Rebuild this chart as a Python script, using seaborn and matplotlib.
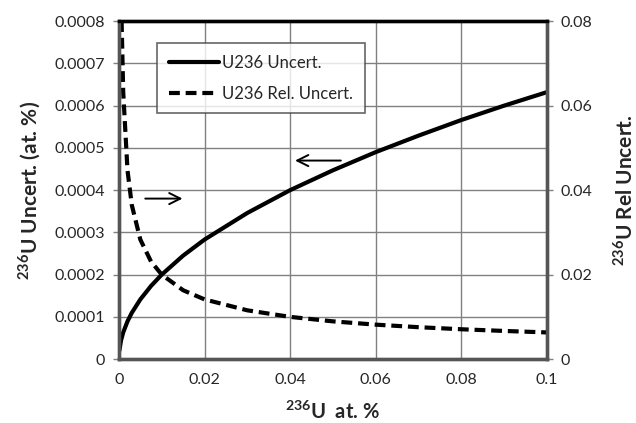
import numpy as np
import pandas as pd
import seaborn as sns
import matplotlib.pyplot as plt
from matplotlib.lines import Line2D

# values
u236_at = [0.0001, 0.0005, 0.001, 0.002, 0.003, 0.005, 0.0075, 0.01, 0.015, 0.02,
           0.03, 0.04, 0.05, 0.06, 0.07, 0.08, 0.09, 0.1]
u236_uncert = [0.00002, 0.0000447, 0.0000632, 0.0000894, 0.0001095, 0.0001414, 0.0001732,
               0.0002, 0.000245, 0.000283, 0.000346, 0.0004, 0.000447, 0.00049, 0.000529,
               0.000566, 0.0006, 0.000632]

rel_at = [0.000625, 0.001, 0.002, 0.003, 0.005, 0.0075, 0.01, 0.015, 0.02,
          0.03, 0.04, 0.05, 0.06, 0.07, 0.08, 0.09, 0.1]
u236_rel_uncert = [0.08, 0.0632, 0.0447, 0.0365, 0.0283, 0.0231, 0.02, 0.0163, 0.01414,
                   0.01155, 0.01, 0.00894, 0.00816, 0.00756, 0.00707, 0.00667, 0.00632]

sns.set_style("white")
plt.rcParams['font.family'] = ['Lato', 'DejaVu Sans']
plt.rcParams['mathtext.fontset'] = 'custom'
plt.rcParams['mathtext.rm'] = 'Lato'
plt.rcParams['mathtext.bf'] = 'Lato:bold'

df1 = pd.DataFrame({'x': u236_at, 'y': u236_uncert})
df2 = pd.DataFrame({'x': rel_at, 'y': u236_rel_uncert})

fig = plt.figure(figsize=(6.36, 4.23), dpi=100)
ax = fig.add_axes([0.187, 0.151, 0.673, 0.799])
ax2 = ax.twinx()

dash = (0, (2.6, 1.4))
sns.lineplot(data=df1, x='x', y='y', ax=ax, color='black', lw=3.0)
sns.lineplot(data=df2, x='x', y='y', ax=ax2, color='black', lw=3.0, linestyle=dash)

ax.set_xlim(0, 0.1)
ax.set_ylim(0, 0.0008)
ax2.set_ylim(0, 0.08)
ax.set_xticks(np.arange(0, 0.1001, 0.02))
ax.set_xticklabels(['0', '0.02', '0.04', '0.06', '0.08', '0.1'])
ax.set_yticks(np.arange(0, 0.00081, 0.0001))
ax.set_yticklabels(['0'] + [f'{v:.4f}' for v in np.arange(0.0001, 0.00081, 0.0001)])
ax2.set_yticks(np.arange(0, 0.081, 0.02))
ax2.set_yticklabels(['0', '0.02', '0.04', '0.06', '0.08'])

ax.grid(True, color='#808080', lw=1.0)
ax.set_axisbelow(True)

for a in (ax, ax2):
    a.tick_params(axis='both', labelsize=11.5, direction='out', length=4, width=1,
                  color='#808080', pad=6)
    for side in ['left', 'right', 'bottom']:
        a.spines[side].set_color('#555555')
        a.spines[side].set_linewidth(2.4)
    a.spines['top'].set_color('black')
    a.spines['top'].set_linewidth(2.4)

ax.set_xlabel(r'$^{\mathbf{236}}$U  at. %', fontsize=14.5, fontweight='bold', labelpad=10)
ax.set_ylabel(r'$^{\mathbf{236}}$U Uncert. (at. %)', fontsize=15, fontweight='bold', labelpad=8)
ax2.set_ylabel(r'$^{\mathbf{236}}$U Rel Uncert.', fontsize=15, fontweight='bold', labelpad=14)

# direction arrows
ax.annotate('', xy=(0.0405, 0.00047), xytext=(0.0525, 0.00047),
            arrowprops=dict(arrowstyle='->', color='black', lw=1.4, mutation_scale=20))
ax.annotate('', xy=(0.0155, 0.00038), xytext=(0.0055, 0.00038),
            arrowprops=dict(arrowstyle='->', color='black', lw=1.4, mutation_scale=20))

handles = [Line2D([], [], color='black', lw=3.0),
           Line2D([], [], color='black', lw=3.0, linestyle=dash)]
leg = ax2.legend(handles, ['U236 Uncert.', 'U236 Rel. Uncert.'], loc='upper left',
                 bbox_to_anchor=(0.07, 0.96), fontsize=12, frameon=True, fancybox=False,
                 handlelength=3.0, borderpad=0.7, labelspacing=0.9, handletextpad=0.2)
leg.get_frame().set_edgecolor('#404040')
leg.get_frame().set_linewidth(1.2)

fig.savefig('out.png', dpi=100)
